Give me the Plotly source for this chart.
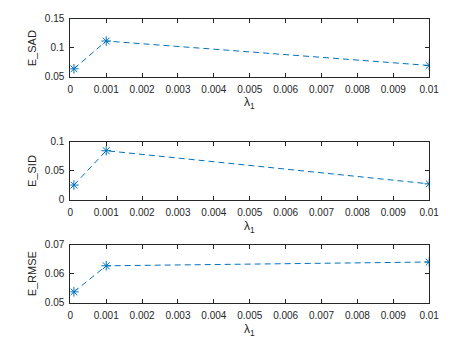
import plotly.graph_objects as go

lam = [0.0001, 0.001, 0.01]
e_sad = [0.0638, 0.1117, 0.0695]
e_sid = [0.0249, 0.0842, 0.0270]
e_rmse = [0.0538, 0.0628, 0.0641]

x_ticks = [0, 0.001, 0.002, 0.003, 0.004, 0.005, 0.006, 0.007, 0.008, 0.009, 0.01]
x_ticktext = ["0", "0.001", "0.002", "0.003", "0.004", "0.005", "0.006", "0.007", "0.008", "0.009", "0.01"]

panels = [
    ("E_SAD", e_sad, [0.05, 0.15], [0.05, 0.1, 0.15], ["0.05", "0.1", "0.15"]),
    ("E_SID", e_sid, [0, 0.1], [0, 0.05, 0.1], ["0", "0.05", "0.1"]),
    ("E_RMSE", e_rmse, [0.05, 0.07], [0.05, 0.06, 0.07], ["0.05", "0.06", "0.07"]),
]

W, H = 474, 355
px_left, px_right = 61, 430
px_rows = [(5, 65), (132, 192), (239, 299)]
lam_y = [92, 220, 327]

FONT = "Liberation Sans, Arial, sans-serif"
DARK = "#262626"
BLUE = "#0072BD"

fig = go.Figure()
annotations = []
for i, (name, vals, yr, yt, ytt) in enumerate(panels):
    n = "" if i == 0 else str(i + 1)
    top, bot = px_rows[i]
    fig.add_trace(go.Scatter(
        x=lam, y=vals, mode="lines+markers",
        line=dict(color=BLUE, width=1, dash="6px,4px"),
        marker=dict(symbol="asterisk-open", size=8, color=BLUE, line=dict(color=BLUE, width=1)),
        xaxis="x" + n, yaxis="y" + n, showlegend=False,
    ))
    common = dict(showline=True, linecolor=DARK, linewidth=1, mirror="ticks",
                  ticks="inside", ticklen=4, tickcolor=DARK, showgrid=False, zeroline=False,
                  tickfont=dict(family=FONT, size=10, color=DARK))
    fig.layout["xaxis" + n] = dict(domain=[px_left / W, px_right / W], range=[0, 0.01],
                                  tickvals=x_ticks, ticktext=x_ticktext, ticklabelstandoff=3,
                                  anchor="y" + n, **common)
    fig.layout["yaxis" + n] = dict(domain=[1 - bot / H, 1 - top / H], range=yr,
                                  tickvals=yt, ticktext=ytt, ticklabelstandoff=3,
                                  anchor="x" + n, **common)
    annotations.append(dict(text="λ<sub>1</sub>", x=(px_left + px_right) / 2 / W, y=1 - lam_y[i] / H,
                            xref="paper", yref="paper", showarrow=False, xanchor="center", yanchor="middle",
                            font=dict(family=FONT, size=12, color=DARK)))
    annotations.append(dict(text=name, x=21 / W, y=1 - (top + bot) / 2 / H,
                            xref="paper", yref="paper", showarrow=False, textangle=-90,
                            xanchor="center", yanchor="middle",
                            font=dict(family=FONT, size=11, color=DARK)))

fig.update_layout(width=W, height=H, margin=dict(l=0, r=0, t=0, b=0),
                  paper_bgcolor="white", plot_bgcolor="white", annotations=annotations)
fig.write_html("out.html")
